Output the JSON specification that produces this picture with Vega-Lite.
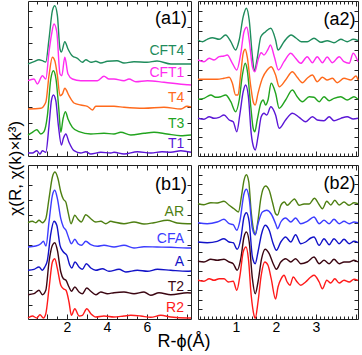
{
"$schema": "https://vega.github.io/schema/vega-lite/v6.json",
"padding": {"left": 6, "top": 0, "right": 0, "bottom": 3},
"config": {
  "font": "Liberation Sans",
  "view": {"stroke": "#222", "strokeWidth": 1},
  "axis": {"grid": false, "domain": false, "tickColor": "#222", "labelColor": "#000", "labelFont": "Liberation Sans", "labelFontSize": 14, "minExtent": 0},
  "title": {"font": "Liberation Sans", "fontWeight": "normal", "color": "#000"}
},
"datasets": {
  "a1": [
    {"s":"CFT4","x":0.05,"v":92},{"s":"CFT4","x":0.35,"v":94.3},{"s":"CFT4","x":0.6,"v":96.3},{"s":"CFT4","x":0.77,"v":95.3},{"s":"CFT4","x":0.94,"v":94},{"s":"CFT4","x":1.1,"v":117},{"s":"CFT4","x":1.27,"v":145.3},{"s":"CFT4","x":1.39,"v":150.3},{"s":"CFT4","x":1.52,"v":140.3},{"s":"CFT4","x":1.65,"v":107},{"s":"CFT4","x":1.72,"v":104},{"s":"CFT4","x":1.89,"v":114.3},{"s":"CFT4","x":2.05,"v":107},{"s":"CFT4","x":2.27,"v":100},{"s":"CFT4","x":2.52,"v":97.7},{"s":"CFT4","x":2.77,"v":93.7},{"s":"CFT4","x":2.94,"v":96.3},{"s":"CFT4","x":3.19,"v":93.7},{"s":"CFT4","x":3.44,"v":94.7},{"s":"CFT4","x":3.69,"v":93},{"s":"CFT4","x":4.02,"v":94.7},{"s":"CFT4","x":4.5,"v":95.3},{"s":"CFT4","x":4.85,"v":93},{"s":"CFT4","x":5.35,"v":94.3},{"s":"CFT4","x":6.0,"v":93.7},{"s":"CFT4","x":6.5,"v":95},{"s":"CFT4","x":7.2,"v":92},{"s":"CFT4","x":8.0,"v":92},{"s":"CFT4","x":8.2,"v":92},
    {"s":"CFT1","x":0.05,"v":75.3},{"s":"CFT1","x":0.35,"v":77},{"s":"CFT1","x":0.52,"v":72},{"s":"CFT1","x":0.77,"v":80.3},{"s":"CFT1","x":0.94,"v":77},{"s":"CFT1","x":1.1,"v":104},{"s":"CFT1","x":1.23,"v":122},{"s":"CFT1","x":1.35,"v":132},{"s":"CFT1","x":1.49,"v":124},{"s":"CFT1","x":1.65,"v":82},{"s":"CFT1","x":1.74,"v":80.3},{"s":"CFT1","x":1.89,"v":98.7},{"s":"CFT1","x":2.05,"v":82},{"s":"CFT1","x":2.27,"v":77},{"s":"CFT1","x":2.69,"v":75.3},{"s":"CFT1","x":3.19,"v":75.3},{"s":"CFT1","x":3.52,"v":75.3},{"s":"CFT1","x":3.85,"v":79.7},{"s":"CFT1","x":4.1,"v":77},{"s":"CFT1","x":4.35,"v":77},{"s":"CFT1","x":4.85,"v":75.3},{"s":"CFT1","x":5.1,"v":77},{"s":"CFT1","x":5.44,"v":74.3},{"s":"CFT1","x":6.02,"v":75.3},{"s":"CFT1","x":6.85,"v":73.7},{"s":"CFT1","x":8.0,"v":71.3},{"s":"CFT1","x":8.2,"v":71},
    {"s":"T4","x":0.05,"v":47},{"s":"T4","x":0.69,"v":47.7},{"s":"T4","x":0.94,"v":53.7},{"s":"T4","x":1.1,"v":80.3},{"s":"T4","x":1.27,"v":98.7},{"s":"T4","x":1.39,"v":95.3},{"s":"T4","x":1.52,"v":80.3},{"s":"T4","x":1.65,"v":60.3},{"s":"T4","x":1.77,"v":62},{"s":"T4","x":1.89,"v":67.7},{"s":"T4","x":2.1,"v":60.3},{"s":"T4","x":2.35,"v":53},{"s":"T4","x":2.69,"v":51},{"s":"T4","x":3.02,"v":49.7},{"s":"T4","x":3.27,"v":46},{"s":"T4","x":3.44,"v":49.7},{"s":"T4","x":3.85,"v":49.7},{"s":"T4","x":4.35,"v":49.7},{"s":"T4","x":4.85,"v":48.7},{"s":"T4","x":5.85,"v":47.7},{"s":"T4","x":6.85,"v":48.7},{"s":"T4","x":7.7,"v":47},{"s":"T4","x":8.0,"v":49.7},{"s":"T4","x":8.2,"v":49},
    {"s":"T3","x":0.05,"v":21},{"s":"T3","x":0.27,"v":23.7},{"s":"T3","x":0.49,"v":26.3},{"s":"T3","x":0.69,"v":22},{"s":"T3","x":0.85,"v":24.3},{"s":"T3","x":1.02,"v":40.3},{"s":"T3","x":1.19,"v":77},{"s":"T3","x":1.32,"v":85.3},{"s":"T3","x":1.45,"v":77},{"s":"T3","x":1.59,"v":47},{"s":"T3","x":1.69,"v":23.7},{"s":"T3","x":1.8,"v":37},{"s":"T3","x":1.92,"v":44.3},{"s":"T3","x":2.05,"v":37},{"s":"T3","x":2.27,"v":28.7},{"s":"T3","x":2.6,"v":24.3},{"s":"T3","x":3.19,"v":22},{"s":"T3","x":3.85,"v":22.7},{"s":"T3","x":4.35,"v":22},{"s":"T3","x":4.69,"v":23.7},{"s":"T3","x":5.19,"v":21},{"s":"T3","x":5.85,"v":22.7},{"s":"T3","x":6.35,"v":23.7},{"s":"T3","x":7.0,"v":22},{"s":"T3","x":7.69,"v":20.3},{"s":"T3","x":8.2,"v":21},
    {"s":"T1","x":0.05,"v":3},{"s":"T1","x":0.27,"v":3},{"s":"T1","x":0.49,"v":5.3},{"s":"T1","x":0.65,"v":2},{"s":"T1","x":0.77,"v":5.3},{"s":"T1","x":0.94,"v":3.7},{"s":"T1","x":1.1,"v":30.3},{"s":"T1","x":1.22,"v":55.3},{"s":"T1","x":1.32,"v":61},{"s":"T1","x":1.44,"v":55.3},{"s":"T1","x":1.57,"v":30.3},{"s":"T1","x":1.72,"v":11},{"s":"T1","x":1.82,"v":17.7},{"s":"T1","x":1.94,"v":22},{"s":"T1","x":2.1,"v":13.7},{"s":"T1","x":2.35,"v":5.3},{"s":"T1","x":2.69,"v":3},{"s":"T1","x":2.94,"v":4.3},{"s":"T1","x":3.19,"v":2},{"s":"T1","x":3.69,"v":3.7},{"s":"T1","x":4.19,"v":3},{"s":"T1","x":4.35,"v":3.7},{"s":"T1","x":4.85,"v":2},{"s":"T1","x":5.52,"v":4.3},{"s":"T1","x":6.19,"v":3},{"s":"T1","x":6.75,"v":4.3},{"s":"T1","x":7.19,"v":3.7},{"s":"T1","x":7.69,"v":5.3},{"s":"T1","x":8.2,"v":3.7}
  ],
  "a2": [
    {"s":"CFT4","x":0.05,"v":116},{"s":"CFT4","x":0.16,"v":114.3},{"s":"CFT4","x":0.28,"v":116.7},{"s":"CFT4","x":0.41,"v":118.3},{"s":"CFT4","x":0.58,"v":116.7},{"s":"CFT4","x":0.74,"v":121},{"s":"CFT4","x":0.87,"v":114.3},{"s":"CFT4","x":0.99,"v":106},{"s":"CFT4","x":1.08,"v":116},{"s":"CFT4","x":1.18,"v":139.3},{"s":"CFT4","x":1.26,"v":147.7},{"s":"CFT4","x":1.33,"v":136},{"s":"CFT4","x":1.41,"v":99.3},{"s":"CFT4","x":1.46,"v":85},{"s":"CFT4","x":1.53,"v":97.7},{"s":"CFT4","x":1.62,"v":119.3},{"s":"CFT4","x":1.74,"v":124.3},{"s":"CFT4","x":1.87,"v":127.7},{"s":"CFT4","x":1.99,"v":116},{"s":"CFT4","x":2.05,"v":106},{"s":"CFT4","x":2.2,"v":114.3},{"s":"CFT4","x":2.38,"v":121},{"s":"CFT4","x":2.5,"v":118},{"s":"CFT4","x":2.63,"v":114.3},{"s":"CFT4","x":2.78,"v":114.3},{"s":"CFT4","x":2.95,"v":117.7},{"s":"CFT4","x":3.12,"v":113.7},{"s":"CFT4","x":3.28,"v":115.3},{"s":"CFT4","x":3.45,"v":113.3},{"s":"CFT4","x":3.62,"v":116.7},{"s":"CFT4","x":3.78,"v":114.3},{"s":"CFT4","x":3.93,"v":116.7},{"s":"CFT4","x":4.05,"v":115.5},
    {"s":"CFT1","x":0.05,"v":96},{"s":"CFT1","x":0.2,"v":94.3},{"s":"CFT1","x":0.33,"v":97.7},{"s":"CFT1","x":0.45,"v":96},{"s":"CFT1","x":0.58,"v":99.3},{"s":"CFT1","x":0.7,"v":100},{"s":"CFT1","x":0.78,"v":101},{"s":"CFT1","x":0.91,"v":92.7},{"s":"CFT1","x":1.02,"v":86},{"s":"CFT1","x":1.12,"v":102.7},{"s":"CFT1","x":1.2,"v":124.3},{"s":"CFT1","x":1.27,"v":128.7},{"s":"CFT1","x":1.33,"v":116},{"s":"CFT1","x":1.41,"v":89.3},{"s":"CFT1","x":1.47,"v":84.3},{"s":"CFT1","x":1.55,"v":96},{"s":"CFT1","x":1.63,"v":103.3},{"s":"CFT1","x":1.7,"v":101},{"s":"CFT1","x":1.8,"v":106.7},{"s":"CFT1","x":1.86,"v":111},{"s":"CFT1","x":1.96,"v":99},{"s":"CFT1","x":2.06,"v":86},{"s":"CFT1","x":2.2,"v":94.3},{"s":"CFT1","x":2.37,"v":102.7},{"s":"CFT1","x":2.49,"v":97.7},{"s":"CFT1","x":2.62,"v":92.7},{"s":"CFT1","x":2.78,"v":99.3},{"s":"CFT1","x":2.91,"v":93.3},{"s":"CFT1","x":3.03,"v":99.3},{"s":"CFT1","x":3.16,"v":93.3},{"s":"CFT1","x":3.28,"v":99},{"s":"CFT1","x":3.41,"v":93.3},{"s":"CFT1","x":3.58,"v":99.3},{"s":"CFT1","x":3.7,"v":94.3},{"s":"CFT1","x":3.83,"v":92.7},{"s":"CFT1","x":3.93,"v":102.7},{"s":"CFT1","x":4.05,"v":94.3},
    {"s":"T4","x":0.05,"v":76.7},{"s":"T4","x":0.28,"v":76.7},{"s":"T4","x":0.53,"v":76.7},{"s":"T4","x":0.7,"v":77.7},{"s":"T4","x":0.83,"v":78.7},{"s":"T4","x":0.91,"v":72.7},{"s":"T4","x":0.99,"v":61},{"s":"T4","x":1.05,"v":61},{"s":"T4","x":1.12,"v":82.7},{"s":"T4","x":1.18,"v":102.7},{"s":"T4","x":1.23,"v":106.7},{"s":"T4","x":1.28,"v":99.3},{"s":"T4","x":1.37,"v":69.3},{"s":"T4","x":1.43,"v":54.3},{"s":"T4","x":1.48,"v":51},{"s":"T4","x":1.55,"v":62.7},{"s":"T4","x":1.66,"v":77.7},{"s":"T4","x":1.78,"v":86},{"s":"T4","x":1.88,"v":89.3},{"s":"T4","x":1.99,"v":81},{"s":"T4","x":2.08,"v":69.3},{"s":"T4","x":2.24,"v":76},{"s":"T4","x":2.41,"v":84.3},{"s":"T4","x":2.53,"v":78.7},{"s":"T4","x":2.66,"v":73.3},{"s":"T4","x":2.78,"v":77.7},{"s":"T4","x":2.91,"v":81},{"s":"T4","x":3.03,"v":74.3},{"s":"T4","x":3.16,"v":78.7},{"s":"T4","x":3.28,"v":76},{"s":"T4","x":3.41,"v":77.7},{"s":"T4","x":3.53,"v":73.3},{"s":"T4","x":3.7,"v":77.7},{"s":"T4","x":3.87,"v":76},{"s":"T4","x":4.0,"v":80},{"s":"T4","x":4.05,"v":76},
    {"s":"T3","x":0.05,"v":56.7},{"s":"T3","x":0.2,"v":57.7},{"s":"T3","x":0.37,"v":61},{"s":"T3","x":0.49,"v":58.7},{"s":"T3","x":0.62,"v":59.3},{"s":"T3","x":0.74,"v":61},{"s":"T3","x":0.87,"v":54.3},{"s":"T3","x":0.99,"v":44.3},{"s":"T3","x":1.08,"v":56},{"s":"T3","x":1.16,"v":81},{"s":"T3","x":1.23,"v":92.7},{"s":"T3","x":1.28,"v":86},{"s":"T3","x":1.37,"v":49.3},{"s":"T3","x":1.43,"v":27.7},{"s":"T3","x":1.47,"v":24.3},{"s":"T3","x":1.53,"v":36},{"s":"T3","x":1.62,"v":52.7},{"s":"T3","x":1.68,"v":56},{"s":"T3","x":1.74,"v":51},{"s":"T3","x":1.8,"v":56},{"s":"T3","x":1.88,"v":72.7},{"s":"T3","x":1.99,"v":62.7},{"s":"T3","x":2.08,"v":47.7},{"s":"T3","x":2.24,"v":56},{"s":"T3","x":2.41,"v":66},{"s":"T3","x":2.53,"v":59.3},{"s":"T3","x":2.66,"v":54.3},{"s":"T3","x":2.83,"v":59.3},{"s":"T3","x":2.95,"v":58.7},{"s":"T3","x":3.08,"v":54.3},{"s":"T3","x":3.2,"v":59.3},{"s":"T3","x":3.33,"v":55.3},{"s":"T3","x":3.45,"v":57.7},{"s":"T3","x":3.62,"v":59.3},{"s":"T3","x":3.78,"v":56},{"s":"T3","x":3.95,"v":59.3},{"s":"T3","x":4.05,"v":56.7},
    {"s":"T1","x":0.05,"v":37.7},{"s":"T1","x":0.2,"v":36.7},{"s":"T1","x":0.33,"v":39.3},{"s":"T1","x":0.45,"v":37.7},{"s":"T1","x":0.58,"v":38.7},{"s":"T1","x":0.7,"v":41},{"s":"T1","x":0.83,"v":36},{"s":"T1","x":0.93,"v":34.3},{"s":"T1","x":1.02,"v":24.3},{"s":"T1","x":1.1,"v":42.7},{"s":"T1","x":1.18,"v":64.3},{"s":"T1","x":1.24,"v":71},{"s":"T1","x":1.31,"v":59.3},{"s":"T1","x":1.38,"v":22.7},{"s":"T1","x":1.45,"v":7.7},{"s":"T1","x":1.48,"v":6},{"s":"T1","x":1.55,"v":19.3},{"s":"T1","x":1.63,"v":39.3},{"s":"T1","x":1.7,"v":42.7},{"s":"T1","x":1.77,"v":41},{"s":"T1","x":1.87,"v":49.3},{"s":"T1","x":1.99,"v":41},{"s":"T1","x":2.08,"v":27.7},{"s":"T1","x":2.24,"v":36},{"s":"T1","x":2.41,"v":42.7},{"s":"T1","x":2.58,"v":38.7},{"s":"T1","x":2.74,"v":34.3},{"s":"T1","x":2.91,"v":39.3},{"s":"T1","x":3.03,"v":36},{"s":"T1","x":3.2,"v":35.3},{"s":"T1","x":3.33,"v":39.3},{"s":"T1","x":3.45,"v":35.3},{"s":"T1","x":3.62,"v":37.7},{"s":"T1","x":3.78,"v":39.3},{"s":"T1","x":3.93,"v":37},{"s":"T1","x":4.05,"v":37.7}
  ],
  "b1": [
    {"s":"AR","x":0.05,"v":96.3},{"s":"AR","x":0.27,"v":97.7},{"s":"AR","x":0.44,"v":96.3},{"s":"AR","x":0.6,"v":98.7},{"s":"AR","x":0.77,"v":96.3},{"s":"AR","x":0.94,"v":100.3},{"s":"AR","x":1.1,"v":120.3},{"s":"AR","x":1.27,"v":142},{"s":"AR","x":1.4,"v":147},{"s":"AR","x":1.55,"v":140.3},{"s":"AR","x":1.69,"v":127},{"s":"AR","x":1.82,"v":119.7},{"s":"AR","x":1.94,"v":117},{"s":"AR","x":2.07,"v":105.3},{"s":"AR","x":2.2,"v":95.3},{"s":"AR","x":2.39,"v":103.7},{"s":"AR","x":2.55,"v":99.7},{"s":"AR","x":2.72,"v":97},{"s":"AR","x":2.94,"v":104.3},{"s":"AR","x":3.19,"v":100.3},{"s":"AR","x":3.44,"v":97},{"s":"AR","x":3.69,"v":97.7},{"s":"AR","x":3.94,"v":95.3},{"s":"AR","x":4.19,"v":97.7},{"s":"AR","x":4.35,"v":97},{"s":"AR","x":4.85,"v":95.3},{"s":"AR","x":5.35,"v":97},{"s":"AR","x":5.85,"v":95},{"s":"AR","x":6.35,"v":96.3},{"s":"AR","x":7.02,"v":98.7},{"s":"AR","x":7.5,"v":96},{"s":"AR","x":8.02,"v":95.3},{"s":"AR","x":8.2,"v":95.3},
    {"s":"CFA","x":0.05,"v":72},{"s":"CFA","x":0.44,"v":73},{"s":"CFA","x":0.69,"v":75.3},{"s":"CFA","x":0.82,"v":77.7},{"s":"CFA","x":0.95,"v":73},{"s":"CFA","x":1.1,"v":97},{"s":"CFA","x":1.27,"v":123.7},{"s":"CFA","x":1.39,"v":128.7},{"s":"CFA","x":1.52,"v":120.3},{"s":"CFA","x":1.69,"v":100.3},{"s":"CFA","x":1.82,"v":92},{"s":"CFA","x":1.95,"v":88.7},{"s":"CFA","x":2.1,"v":80.3},{"s":"CFA","x":2.22,"v":75.3},{"s":"CFA","x":2.39,"v":79.7},{"s":"CFA","x":2.55,"v":75.3},{"s":"CFA","x":2.72,"v":73.7},{"s":"CFA","x":2.94,"v":77.7},{"s":"CFA","x":3.19,"v":74.3},{"s":"CFA","x":3.52,"v":72.7},{"s":"CFA","x":3.85,"v":73.7},{"s":"CFA","x":4.35,"v":72},{"s":"CFA","x":4.85,"v":73.7},{"s":"CFA","x":5.35,"v":71},{"s":"CFA","x":5.85,"v":72.3},{"s":"CFA","x":6.5,"v":72},{"s":"CFA","x":7.19,"v":71.7},{"s":"CFA","x":8.0,"v":71},{"s":"CFA","x":8.2,"v":71},
    {"s":"A","x":0.05,"v":48.7},{"s":"A","x":0.35,"v":49.7},{"s":"A","x":0.6,"v":52},{"s":"A","x":0.77,"v":48.7},{"s":"A","x":0.89,"v":52},{"s":"A","x":1.02,"v":58.7},{"s":"A","x":1.19,"v":85.3},{"s":"A","x":1.35,"v":97.7},{"s":"A","x":1.49,"v":93.7},{"s":"A","x":1.65,"v":73.7},{"s":"A","x":1.82,"v":67},{"s":"A","x":1.99,"v":63.7},{"s":"A","x":2.14,"v":53.7},{"s":"A","x":2.24,"v":51},{"s":"A","x":2.4,"v":57},{"s":"A","x":2.6,"v":52},{"s":"A","x":2.77,"v":49.7},{"s":"A","x":2.97,"v":55.3},{"s":"A","x":3.19,"v":51},{"s":"A","x":3.44,"v":48.7},{"s":"A","x":3.77,"v":50.3},{"s":"A","x":4.1,"v":47.7},{"s":"A","x":4.6,"v":49.7},{"s":"A","x":4.94,"v":47},{"s":"A","x":5.52,"v":48.7},{"s":"A","x":6.02,"v":47.7},{"s":"A","x":6.52,"v":49.7},{"s":"A","x":7.19,"v":48.7},{"s":"A","x":8.02,"v":47.7},{"s":"A","x":8.2,"v":48},
    {"s":"T2","x":0.05,"v":24.3},{"s":"T2","x":0.35,"v":25.3},{"s":"T2","x":0.6,"v":28.7},{"s":"T2","x":0.77,"v":24.3},{"s":"T2","x":0.94,"v":28.7},{"s":"T2","x":1.1,"v":57},{"s":"T2","x":1.27,"v":73.7},{"s":"T2","x":1.39,"v":76.3},{"s":"T2","x":1.52,"v":68.7},{"s":"T2","x":1.69,"v":47},{"s":"T2","x":1.82,"v":40.3},{"s":"T2","x":1.95,"v":38.7},{"s":"T2","x":2.1,"v":32},{"s":"T2","x":2.22,"v":27.7},{"s":"T2","x":2.39,"v":32},{"s":"T2","x":2.6,"v":27},{"s":"T2","x":2.77,"v":25.3},{"s":"T2","x":2.99,"v":31},{"s":"T2","x":3.19,"v":27.7},{"s":"T2","x":3.44,"v":24.3},{"s":"T2","x":3.69,"v":27},{"s":"T2","x":4.02,"v":25.3},{"s":"T2","x":4.35,"v":26.3},{"s":"T2","x":4.85,"v":27},{"s":"T2","x":5.35,"v":25.3},{"s":"T2","x":5.85,"v":27},{"s":"T2","x":6.19,"v":23.7},{"s":"T2","x":6.6,"v":26.3},{"s":"T2","x":7.19,"v":24.3},{"s":"T2","x":8.02,"v":26.3},{"s":"T2","x":8.2,"v":26},
    {"s":"R2","x":0.05,"v":1},{"s":"R2","x":0.27,"v":3},{"s":"R2","x":0.49,"v":1},{"s":"R2","x":0.65,"v":4.3},{"s":"R2","x":0.82,"v":1},{"s":"R2","x":0.94,"v":5.3},{"s":"R2","x":1.1,"v":30.3},{"s":"R2","x":1.27,"v":57},{"s":"R2","x":1.39,"v":60.3},{"s":"R2","x":1.52,"v":50.3},{"s":"R2","x":1.69,"v":33.7},{"s":"R2","x":1.82,"v":30.3},{"s":"R2","x":1.95,"v":28.7},{"s":"R2","x":2.1,"v":17},{"s":"R2","x":2.22,"v":3.7},{"s":"R2","x":2.39,"v":10.3},{"s":"R2","x":2.6,"v":3},{"s":"R2","x":2.77,"v":3.7},{"s":"R2","x":2.99,"v":10.3},{"s":"R2","x":3.19,"v":5.3},{"s":"R2","x":3.44,"v":2},{"s":"R2","x":3.85,"v":3},{"s":"R2","x":4.35,"v":2},{"s":"R2","x":4.85,"v":3},{"s":"R2","x":5.19,"v":3.7},{"s":"R2","x":5.69,"v":3},{"s":"R2","x":6.19,"v":1.7},{"s":"R2","x":6.69,"v":3.7},{"s":"R2","x":7.19,"v":2},{"s":"R2","x":8.02,"v":1},{"s":"R2","x":8.2,"v":1}
  ],
  "b2": [
    {"s":"AR","x":0.05,"v":115.3},{"s":"AR","x":0.2,"v":114.3},{"s":"AR","x":0.37,"v":116.3},{"s":"AR","x":0.53,"v":116},{"s":"AR","x":0.7,"v":117.7},{"s":"AR","x":0.83,"v":113.7},{"s":"AR","x":0.95,"v":110.3},{"s":"AR","x":1.06,"v":107},{"s":"AR","x":1.14,"v":123.7},{"s":"AR","x":1.2,"v":138.7},{"s":"AR","x":1.26,"v":144.3},{"s":"AR","x":1.32,"v":137},{"s":"AR","x":1.38,"v":107},{"s":"AR","x":1.45,"v":87},{"s":"AR","x":1.48,"v":84.3},{"s":"AR","x":1.55,"v":98.7},{"s":"AR","x":1.62,"v":120.3},{"s":"AR","x":1.68,"v":130.3},{"s":"AR","x":1.74,"v":133},{"s":"AR","x":1.83,"v":128.7},{"s":"AR","x":1.91,"v":117},{"s":"AR","x":1.99,"v":105.3},{"s":"AR","x":2.04,"v":104},{"s":"AR","x":2.12,"v":113.7},{"s":"AR","x":2.21,"v":117},{"s":"AR","x":2.28,"v":113.7},{"s":"AR","x":2.39,"v":117.7},{"s":"AR","x":2.46,"v":120},{"s":"AR","x":2.58,"v":113.7},{"s":"AR","x":2.7,"v":115},{"s":"AR","x":2.83,"v":115},{"s":"AR","x":2.96,"v":120.7},{"s":"AR","x":3.08,"v":114.3},{"s":"AR","x":3.16,"v":110.3},{"s":"AR","x":3.27,"v":117.7},{"s":"AR","x":3.37,"v":114},{"s":"AR","x":3.47,"v":118.7},{"s":"AR","x":3.58,"v":114},{"s":"AR","x":3.7,"v":117},{"s":"AR","x":3.83,"v":113.7},{"s":"AR","x":3.95,"v":116.3},{"s":"AR","x":4.05,"v":115.3},
    {"s":"CFA","x":0.05,"v":96.3},{"s":"CFA","x":0.28,"v":95.3},{"s":"CFA","x":0.53,"v":97},{"s":"CFA","x":0.7,"v":99.7},{"s":"CFA","x":0.83,"v":95.3},{"s":"CFA","x":0.93,"v":94.3},{"s":"CFA","x":1.02,"v":88.7},{"s":"CFA","x":1.1,"v":98.7},{"s":"CFA","x":1.2,"v":125.3},{"s":"CFA","x":1.26,"v":129.7},{"s":"CFA","x":1.33,"v":120.3},{"s":"CFA","x":1.41,"v":90.3},{"s":"CFA","x":1.48,"v":84.3},{"s":"CFA","x":1.55,"v":95.3},{"s":"CFA","x":1.66,"v":107},{"s":"CFA","x":1.77,"v":108.7},{"s":"CFA","x":1.88,"v":105},{"s":"CFA","x":1.99,"v":95.3},{"s":"CFA","x":2.04,"v":90.3},{"s":"CFA","x":2.12,"v":97},{"s":"CFA","x":2.24,"v":101},{"s":"CFA","x":2.37,"v":97},{"s":"CFA","x":2.49,"v":101},{"s":"CFA","x":2.62,"v":95.3},{"s":"CFA","x":2.78,"v":97.7},{"s":"CFA","x":2.95,"v":102},{"s":"CFA","x":3.08,"v":95.3},{"s":"CFA","x":3.2,"v":98.7},{"s":"CFA","x":3.33,"v":95.3},{"s":"CFA","x":3.45,"v":99.7},{"s":"CFA","x":3.58,"v":95.3},{"s":"CFA","x":3.7,"v":97.7},{"s":"CFA","x":3.83,"v":95.3},{"s":"CFA","x":3.95,"v":97},{"s":"CFA","x":4.05,"v":96.3},
    {"s":"A","x":0.05,"v":77},{"s":"A","x":0.28,"v":76.3},{"s":"A","x":0.53,"v":77.7},{"s":"A","x":0.7,"v":80.3},{"s":"A","x":0.83,"v":77},{"s":"A","x":0.93,"v":76.3},{"s":"A","x":1.03,"v":69.7},{"s":"A","x":1.12,"v":80.3},{"s":"A","x":1.2,"v":102},{"s":"A","x":1.26,"v":106.3},{"s":"A","x":1.33,"v":97},{"s":"A","x":1.41,"v":62},{"s":"A","x":1.48,"v":55.3},{"s":"A","x":1.55,"v":67},{"s":"A","x":1.64,"v":85.3},{"s":"A","x":1.73,"v":93.7},{"s":"A","x":1.83,"v":88.7},{"s":"A","x":1.93,"v":75.3},{"s":"A","x":2.01,"v":68.7},{"s":"A","x":2.12,"v":77},{"s":"A","x":2.24,"v":82},{"s":"A","x":2.37,"v":77},{"s":"A","x":2.49,"v":84.3},{"s":"A","x":2.62,"v":75.3},{"s":"A","x":2.74,"v":77},{"s":"A","x":2.87,"v":81},{"s":"A","x":2.95,"v":82},{"s":"A","x":3.08,"v":73.7},{"s":"A","x":3.2,"v":80.3},{"s":"A","x":3.33,"v":74.3},{"s":"A","x":3.45,"v":80.3},{"s":"A","x":3.58,"v":75.3},{"s":"A","x":3.7,"v":79.7},{"s":"A","x":3.83,"v":75.3},{"s":"A","x":3.95,"v":77.7},{"s":"A","x":4.05,"v":76.3},
    {"s":"T2","x":0.05,"v":57.7},{"s":"T2","x":0.2,"v":57},{"s":"T2","x":0.37,"v":59.7},{"s":"T2","x":0.53,"v":58.7},{"s":"T2","x":0.7,"v":59.7},{"s":"T2","x":0.83,"v":57},{"s":"T2","x":0.93,"v":55.3},{"s":"T2","x":1.03,"v":48.7},{"s":"T2","x":1.12,"v":60.3},{"s":"T2","x":1.2,"v":82},{"s":"T2","x":1.26,"v":87},{"s":"T2","x":1.33,"v":77},{"s":"T2","x":1.41,"v":40.3},{"s":"T2","x":1.48,"v":25.3},{"s":"T2","x":1.55,"v":37},{"s":"T2","x":1.64,"v":60.3},{"s":"T2","x":1.73,"v":69.7},{"s":"T2","x":1.83,"v":65.3},{"s":"T2","x":1.93,"v":55.3},{"s":"T2","x":2.01,"v":49.7},{"s":"T2","x":2.12,"v":57},{"s":"T2","x":2.24,"v":60.3},{"s":"T2","x":2.37,"v":57},{"s":"T2","x":2.49,"v":60.3},{"s":"T2","x":2.62,"v":55.3},{"s":"T2","x":2.78,"v":57},{"s":"T2","x":2.95,"v":62},{"s":"T2","x":3.08,"v":55.3},{"s":"T2","x":3.2,"v":58.7},{"s":"T2","x":3.33,"v":55.3},{"s":"T2","x":3.45,"v":59.7},{"s":"T2","x":3.58,"v":55.3},{"s":"T2","x":3.7,"v":57},{"s":"T2","x":3.83,"v":57},{"s":"T2","x":3.95,"v":58.7},{"s":"T2","x":4.05,"v":57},
    {"s":"R2","x":0.05,"v":38.7},{"s":"R2","x":0.2,"v":37.7},{"s":"R2","x":0.33,"v":40.3},{"s":"R2","x":0.45,"v":38.7},{"s":"R2","x":0.58,"v":40.3},{"s":"R2","x":0.7,"v":40.3},{"s":"R2","x":0.81,"v":37},{"s":"R2","x":0.93,"v":37.7},{"s":"R2","x":1.02,"v":28.7},{"s":"R2","x":1.1,"v":43.7},{"s":"R2","x":1.18,"v":67},{"s":"R2","x":1.25,"v":72},{"s":"R2","x":1.31,"v":60.3},{"s":"R2","x":1.38,"v":23.7},{"s":"R2","x":1.45,"v":3.7},{"s":"R2","x":1.48,"v":0.5},{"s":"R2","x":1.55,"v":17},{"s":"R2","x":1.63,"v":43.7},{"s":"R2","x":1.72,"v":57},{"s":"R2","x":1.8,"v":53.7},{"s":"R2","x":1.88,"v":40.3},{"s":"R2","x":1.99,"v":20},{"s":"R2","x":2.05,"v":32},{"s":"R2","x":2.13,"v":40.3},{"s":"R2","x":2.2,"v":43.7},{"s":"R2","x":2.28,"v":37},{"s":"R2","x":2.35,"v":33.7},{"s":"R2","x":2.43,"v":42},{"s":"R2","x":2.53,"v":37},{"s":"R2","x":2.62,"v":33.7},{"s":"R2","x":2.74,"v":37},{"s":"R2","x":2.87,"v":42},{"s":"R2","x":2.95,"v":43.7},{"s":"R2","x":3.08,"v":37},{"s":"R2","x":3.16,"v":30.3},{"s":"R2","x":3.27,"v":38.7},{"s":"R2","x":3.37,"v":36},{"s":"R2","x":3.47,"v":40.3},{"s":"R2","x":3.58,"v":36},{"s":"R2","x":3.7,"v":38.7},{"s":"R2","x":3.83,"v":37},{"s":"R2","x":3.95,"v":39.7},{"s":"R2","x":4.05,"v":38.7}
  ],
  "lab": [
    {"p":"a1","s":"CFT4","x":7.87,"v":105.3},{"p":"a1","s":"CFT1","x":7.87,"v":83.3},{"p":"a1","s":"T4","x":7.87,"v":58.3},{"p":"a1","s":"T3","x":7.87,"v":32.3},{"p":"a1","s":"T1","x":7.87,"v":12},
    {"p":"b1","s":"AR","x":7.85,"v":107},{"p":"b1","s":"CFA","x":7.85,"v":80.3},{"p":"b1","s":"A","x":7.85,"v":57},{"p":"b1","s":"T2","x":7.85,"v":32},{"p":"b1","s":"R2","x":7.85,"v":11.3}
  ],
  "plab": [
    {"p":"a1","t":"(a1)","x":8.0,"v":137},{"p":"a2","t":"(a2)","x":3.99,"v":136},{"p":"b1","t":"(b1)","x":8.0,"v":134.5},{"p":"b2","t":"(b2)","x":3.99,"v":135.3}
  ]
},
"title": {"text": "R-ϕ(Å)", "orient": "bottom", "anchor": "middle", "fontSize": 18, "offset": -4, "font": "Liberation Sans, DejaVu Sans"},
"vconcat": [{
  "title": {"text": "χ(R, χ(k)×k³)", "orient": "left", "anchor": "middle", "fontSize": 17, "offset": 0},
  "spacing": 6,
  "vconcat": [
    {"spacing": -1, "hconcat": [
      {"width": 163, "height": 155,
       "layer": [
        {"data": {"name": "a1"}, "mark": {"type": "line", "interpolate": "monotone", "strokeWidth": 1.4},
         "encoding": {
          "x": {"field": "x", "type": "quantitative", "scale": {"domain": [0.05, 8.2], "nice": false, "zero": false}, "axis": {"orient": "bottom", "title": null, "values": [0.5,1,1.5,2,2.5,3,3.5,4,4.5,5,5.5,6,6.5,7,7.5,8], "labels": false, "tickSize": {"condition": {"test": "datum.value % 1 === 0", "value": -5}, "value": -3}}},
          "y": {"field": "v", "type": "quantitative", "scale": {"domain": [0, 155], "nice": false, "zero": false}, "axis": {"orient": "left", "title": null, "values": [17,33,49,65,81,97,113,129,145], "labels": false, "tickSize": -4}},
          "color": {"field": "s", "type": "nominal", "scale": {"domain": ["CFT4","CFT1","T4","T3","T1","AR","CFA","A","T2","R2"], "range": ["#1f8c5c","#ff2cf0","#ff6a1c","#22a41f","#5b16d6","#4e7f12","#3c3cff","#1212c8","#3b0612","#ff1a1a"]}, "legend": null}
         }},
        {"data": {"name": "lab"}, "transform": [{"filter": "datum.p === 'a1'"}],
         "mark": {"type": "text", "align": "right", "baseline": "middle", "fontSize": 14},
         "encoding": {
          "x": {"field": "x", "type": "quantitative", "scale": {"domain": [0.05, 8.2], "nice": false, "zero": false}, "axis": {"orient": "top", "title": null, "values": [0.5,1,1.5,2,2.5,3,3.5,4,4.5,5,5.5,6,6.5,7,7.5,8], "labels": false, "tickSize": {"condition": {"test": "datum.value % 1 === 0", "value": -5}, "value": -3}}},
          "y": {"field": "v", "type": "quantitative", "scale": {"domain": [0, 155], "nice": false, "zero": false}, "axis": {"orient": "right", "title": null, "values": [17,33,49,65,81,97,113,129,145], "labels": false, "tickSize": -4}},
          "text": {"field": "s"},
          "color": {"field": "s", "type": "nominal", "legend": null}
         }},
        {"data": {"name": "plab"}, "transform": [{"filter": "datum.p === 'a1'"}],
         "mark": {"type": "text", "align": "right", "baseline": "middle", "fontSize": 18, "color": "#000"},
         "encoding": {
          "x": {"field": "x", "type": "quantitative", "axis": null},
          "y": {"field": "v", "type": "quantitative", "axis": null},
          "text": {"field": "t"}
         }}
       ],
       "resolve": {"axis": {"x": "independent", "y": "independent"}}
      },
      {"width": 160, "height": 155,
       "layer": [
        {"data": {"name": "a2"}, "mark": {"type": "line", "interpolate": "monotone", "strokeWidth": 1.4},
         "encoding": {
          "x": {"field": "x", "type": "quantitative", "scale": {"domain": [0.05, 4.05], "nice": false, "zero": false}, "axis": {"orient": "bottom", "title": null, "values": [0.1,0.2,0.3,0.4,0.5,0.6,0.7,0.8,0.9,1,1.1,1.2,1.3,1.4,1.5,1.6,1.7,1.8,1.9,2,2.1,2.2,2.3,2.4,2.5,2.6,2.7,2.8,2.9,3,3.1,3.2,3.3,3.4,3.5,3.6,3.7,3.8,3.9,4], "labels": false, "tickSize": {"condition": {"test": "datum.value % 1 === 0", "value": -5}, "value": -3}}},
          "y": {"field": "v", "type": "quantitative", "scale": {"domain": [0, 155], "nice": false, "zero": false}, "axis": {"orient": "left", "title": null, "values": [9,19,28,38,47,57,67,76,86,96,106,115,125,135,145], "labels": false, "tickSize": -4}},
          "color": {"field": "s", "type": "nominal", "scale": {"domain": ["CFT4","CFT1","T4","T3","T1","AR","CFA","A","T2","R2"], "range": ["#1f8c5c","#ff2cf0","#ff6a1c","#22a41f","#5b16d6","#4e7f12","#3c3cff","#1212c8","#3b0612","#ff1a1a"]}, "legend": null}
         }},
        {"data": {"name": "plab"}, "transform": [{"filter": "datum.p === 'a2'"}],
         "mark": {"type": "text", "align": "right", "baseline": "middle", "fontSize": 18, "color": "#000"},
         "encoding": {
          "x": {"field": "x", "type": "quantitative", "scale": {"domain": [0.05, 4.05], "nice": false, "zero": false}, "axis": {"orient": "top", "title": null, "values": [0.1,0.2,0.3,0.4,0.5,0.6,0.7,0.8,0.9,1,1.1,1.2,1.3,1.4,1.5,1.6,1.7,1.8,1.9,2,2.1,2.2,2.3,2.4,2.5,2.6,2.7,2.8,2.9,3,3.1,3.2,3.3,3.4,3.5,3.6,3.7,3.8,3.9,4], "labels": false, "tickSize": {"condition": {"test": "datum.value % 1 === 0", "value": -5}, "value": -3}}},
          "y": {"field": "v", "type": "quantitative", "scale": {"domain": [0, 155], "nice": false, "zero": false}, "axis": {"orient": "right", "title": null, "values": [9,19,28,38,47,57,67,76,86,96,106,115,125,135,145], "labels": false, "tickSize": -4}},
          "text": {"field": "t"}
         }}
       ],
       "resolve": {"axis": {"x": "independent", "y": "independent"}}
      }
    ]},
    {"spacing": -1, "hconcat": [
      {"width": 163, "height": 154,
       "layer": [
        {"data": {"name": "b1"}, "mark": {"type": "line", "interpolate": "monotone", "strokeWidth": 1.4},
         "encoding": {
          "x": {"field": "x", "type": "quantitative", "scale": {"domain": [0.05, 8.2], "nice": false, "zero": false}, "axis": {"orient": "bottom", "title": null, "values": [0.5,1,1.5,2,2.5,3,3.5,4,4.5,5,5.5,6,6.5,7,7.5,8], "labelExpr": "(datum.value === 2 || datum.value === 4 || datum.value === 6) ? '' + datum.value : ''", "labelOverlap": false, "labelFlush": false, "labelPadding": 6, "tickSize": {"condition": {"test": "datum.value % 1 === 0", "value": -5}, "value": -3}}},
          "y": {"field": "v", "type": "quantitative", "scale": {"domain": [0, 154], "nice": false, "zero": false}, "axis": {"orient": "left", "title": null, "values": [14,29,44,59,74,89,104,119,134], "labels": false, "tickSize": -4}},
          "color": {"field": "s", "type": "nominal", "scale": {"domain": ["CFT4","CFT1","T4","T3","T1","AR","CFA","A","T2","R2"], "range": ["#1f8c5c","#ff2cf0","#ff6a1c","#22a41f","#5b16d6","#4e7f12","#3c3cff","#1212c8","#3b0612","#ff1a1a"]}, "legend": null}
         }},
        {"data": {"name": "lab"}, "transform": [{"filter": "datum.p === 'b1'"}],
         "mark": {"type": "text", "align": "right", "baseline": "middle", "fontSize": 14},
         "encoding": {
          "x": {"field": "x", "type": "quantitative", "scale": {"domain": [0.05, 8.2], "nice": false, "zero": false}, "axis": {"orient": "top", "title": null, "values": [0.5,1,1.5,2,2.5,3,3.5,4,4.5,5,5.5,6,6.5,7,7.5,8], "labels": false, "tickSize": {"condition": {"test": "datum.value % 1 === 0", "value": -5}, "value": -3}}},
          "y": {"field": "v", "type": "quantitative", "scale": {"domain": [0, 154], "nice": false, "zero": false}, "axis": {"orient": "right", "title": null, "values": [14,29,44,59,74,89,104,119,134], "labels": false, "tickSize": -4}},
          "text": {"field": "s"},
          "color": {"field": "s", "type": "nominal", "legend": null}
         }},
        {"data": {"name": "plab"}, "transform": [{"filter": "datum.p === 'b1'"}],
         "mark": {"type": "text", "align": "right", "baseline": "middle", "fontSize": 18, "color": "#000"},
         "encoding": {
          "x": {"field": "x", "type": "quantitative", "axis": null},
          "y": {"field": "v", "type": "quantitative", "axis": null},
          "text": {"field": "t"}
         }}
       ],
       "resolve": {"axis": {"x": "independent", "y": "independent"}}
      },
      {"width": 160, "height": 154,
       "layer": [
        {"data": {"name": "b2"}, "mark": {"type": "line", "interpolate": "monotone", "strokeWidth": 1.4},
         "encoding": {
          "x": {"field": "x", "type": "quantitative", "scale": {"domain": [0.05, 4.05], "nice": false, "zero": false}, "axis": {"orient": "bottom", "title": null, "values": [0.1,0.2,0.3,0.4,0.5,0.6,0.7,0.8,0.9,1,1.1,1.2,1.3,1.4,1.5,1.6,1.7,1.8,1.9,2,2.1,2.2,2.3,2.4,2.5,2.6,2.7,2.8,2.9,3,3.1,3.2,3.3,3.4,3.5,3.6,3.7,3.8,3.9,4], "labelExpr": "(datum.value === 1 || datum.value === 2 || datum.value === 3) ? '' + datum.value : ''", "labelOverlap": false, "labelFlush": false, "labelPadding": 6, "tickSize": {"condition": {"test": "datum.value % 1 === 0", "value": -5}, "value": -3}}},
          "y": {"field": "v", "type": "quantitative", "scale": {"domain": [0, 154], "nice": false, "zero": false}, "axis": {"orient": "left", "title": null, "values": [10,19,29,39,48,58,67,77,87,96,106,115,125,135,144], "labels": false, "tickSize": -4}},
          "color": {"field": "s", "type": "nominal", "scale": {"domain": ["CFT4","CFT1","T4","T3","T1","AR","CFA","A","T2","R2"], "range": ["#1f8c5c","#ff2cf0","#ff6a1c","#22a41f","#5b16d6","#4e7f12","#3c3cff","#1212c8","#3b0612","#ff1a1a"]}, "legend": null}
         }},
        {"data": {"name": "plab"}, "transform": [{"filter": "datum.p === 'b2'"}],
         "mark": {"type": "text", "align": "right", "baseline": "middle", "fontSize": 18, "color": "#000"},
         "encoding": {
          "x": {"field": "x", "type": "quantitative", "scale": {"domain": [0.05, 4.05], "nice": false, "zero": false}, "axis": {"orient": "top", "title": null, "values": [0.1,0.2,0.3,0.4,0.5,0.6,0.7,0.8,0.9,1,1.1,1.2,1.3,1.4,1.5,1.6,1.7,1.8,1.9,2,2.1,2.2,2.3,2.4,2.5,2.6,2.7,2.8,2.9,3,3.1,3.2,3.3,3.4,3.5,3.6,3.7,3.8,3.9,4], "labels": false, "tickSize": {"condition": {"test": "datum.value % 1 === 0", "value": -5}, "value": -3}}},
          "y": {"field": "v", "type": "quantitative", "scale": {"domain": [0, 154], "nice": false, "zero": false}, "axis": {"orient": "right", "title": null, "values": [10,19,29,39,48,58,67,77,87,96,106,115,125,135,144], "labels": false, "tickSize": -4}},
          "text": {"field": "t"}
         }}
       ],
       "resolve": {"axis": {"x": "independent", "y": "independent"}}
      }
    ]}
  ]
}]
}
